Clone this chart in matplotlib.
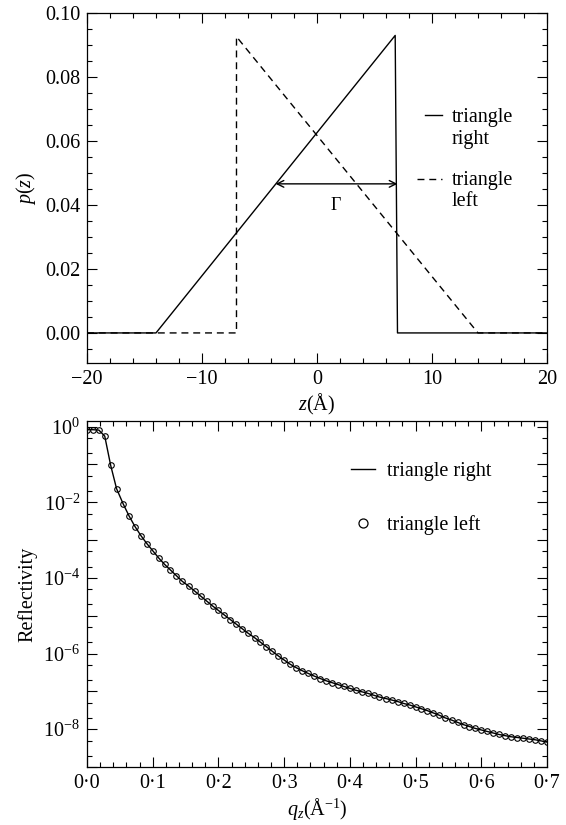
import matplotlib
matplotlib.use("Agg")
import numpy as np
import matplotlib.pyplot as plt
from matplotlib.lines import Line2D
from matplotlib.ticker import MultipleLocator, LogLocator, FuncFormatter, NullFormatter

# fonts: Times-like serif everywhere
plt.rcParams["font.family"] = ["Liberation Serif", "DejaVu Serif"]
plt.rcParams["mathtext.fontset"] = "custom"
plt.rcParams["mathtext.rm"] = "Liberation Serif"
plt.rcParams["mathtext.it"] = "Liberation Serif:italic"
FS = 14.5

# top panel: density profiles p(z)
z_right = [-20, -14, 6.8, 7.0, 20]
p_right = [0, 0, 0.093, 0, 0]
z_left = [-20, -7, -7, 14, 20]
p_left = [0, 0, 0.0926, 0, 0]

# width marker Gamma
gamma_z = [-3.6, 7.0]
gamma_p = 0.0466
gamma_text_pos = (1.6, 0.0397)

# bottom panel: reflectivity (both profiles give the same curve)
q = [0.000, 0.009, 0.018, 0.027, 0.036, 0.045, 0.055, 0.064, 0.073, 0.082,
     0.091, 0.100, 0.109, 0.118, 0.127, 0.136, 0.145, 0.155, 0.164, 0.173,
     0.182, 0.191, 0.200, 0.209, 0.218, 0.227, 0.236, 0.245, 0.255, 0.264,
     0.273, 0.282, 0.291, 0.300, 0.309, 0.318, 0.327, 0.336, 0.345, 0.355,
     0.364, 0.373, 0.382, 0.391, 0.400, 0.409, 0.418, 0.427, 0.436, 0.445,
     0.455, 0.464, 0.473, 0.482, 0.491, 0.500, 0.509, 0.518, 0.527, 0.536,
     0.545, 0.555, 0.564, 0.573, 0.582, 0.591, 0.600, 0.609, 0.618, 0.627,
     0.636, 0.645, 0.655, 0.664, 0.673, 0.682, 0.691, 0.700]
log_refl_right = [
    -0.08, -0.08, -0.09, -0.25, -1.02, -1.64, -2.04, -2.36, -2.64, -2.88,
    -3.09, -3.28, -3.47, -3.64, -3.79, -3.94, -4.09, -4.22, -4.35, -4.48,
    -4.61, -4.74, -4.86, -4.98, -5.10, -5.22, -5.34, -5.46, -5.58, -5.70,
    -5.82, -5.94, -6.06, -6.17, -6.28, -6.37, -6.45, -6.52, -6.59, -6.66,
    -6.72, -6.77, -6.82, -6.87, -6.92, -6.97, -7.01, -7.05, -7.10, -7.15,
    -7.19, -7.23, -7.27, -7.32, -7.36, -7.41, -7.46, -7.51, -7.57, -7.63,
    -7.70, -7.76, -7.82, -7.88, -7.93, -7.98, -8.02, -8.06, -8.10, -8.14,
    -8.17, -8.20, -8.22, -8.24, -8.26, -8.28, -8.31, -8.34]
log_refl_left = list(log_refl_right)

refl_right = 10.0 ** np.array(log_refl_right)
refl_left = 10.0 ** np.array(log_refl_left)


def style_ticks(ax):
    ax.tick_params(which="both", direction="in", top=True, right=True,
                   labelsize=FS, width=0.8, pad=5)
    ax.tick_params(which="major", length=7)
    ax.tick_params(which="minor", length=3.5)
    for sp in ax.spines.values():
        sp.set_linewidth(0.9)


fig = plt.figure(figsize=(5.66, 8.25), dpi=100)

# ---- top panel ----
ax1 = fig.add_axes([0.1537, 0.56, 0.8127, 0.4242])
ax1.plot(z_right, p_right, color="black", lw=1.0)
ax1.plot(z_left, p_left, color="black", lw=1.0, ls=(0, (5, 3.5)))
ax1.annotate("", xy=(gamma_z[1], gamma_p), xytext=(gamma_z[0], gamma_p),
             arrowprops=dict(arrowstyle="<->", lw=1.0, color="black",
                             shrinkA=0, shrinkB=0, mutation_scale=12))
ax1.text(gamma_text_pos[0], gamma_text_pos[1], "Γ", fontsize=13,
         ha="center", va="center")
ax1.set_xlim(-20, 20)
ax1.set_ylim(-0.0094, 0.1)
ax1.xaxis.set_major_locator(MultipleLocator(10))
ax1.xaxis.set_minor_locator(MultipleLocator(2))
ax1.yaxis.set_major_locator(MultipleLocator(0.02))
ax1.yaxis.set_minor_locator(MultipleLocator(0.005))
ax1.yaxis.set_major_formatter(FuncFormatter(lambda v, p: "%.2f" % v))
ax1.set_xlim(-20, 20)
style_ticks(ax1)
ax1.set_xlabel(r"$z$(Å)", fontsize=FS, labelpad=2)
ax1.set_ylabel(r"$p(z)$", fontsize=FS, labelpad=5)

# legend drawn by hand so the handle sits on the first line of each label
tr = ax1.transAxes
ax1.plot([0.735, 0.772], [0.709, 0.709], color="black", lw=1.0,
         transform=tr, clip_on=False)
ax1.text(0.793, 0.670, "triangle\nright", transform=tr, fontsize=FS,
         va="center", ha="left", linespacing=1.17)
ax1.plot([0.717, 0.772], [0.526, 0.526], color="black", lw=1.0,
         ls=(0, (5, 3.5)), transform=tr, clip_on=False)
ax1.text(0.793, 0.491, "triangle\nleft", transform=tr, fontsize=FS,
         va="center", ha="left", linespacing=1.17)

# ---- bottom panel ----
ax2 = fig.add_axes([0.1537, 0.0703, 0.8127, 0.4194])
ax2.plot(q, refl_right, color="black", lw=1.0)
ax2.plot(q, refl_left, ls="none", marker="o", ms=4, mfc="none",
         mec="black", mew=0.8)
ax2.set_yscale("log")
ax2.set_xlim(0, 0.7)
ax2.set_ylim(1e-9, 10 ** 0.15)
ax2.xaxis.set_major_locator(MultipleLocator(0.1))
ax2.xaxis.set_minor_locator(MultipleLocator(0.02))
ax2.xaxis.set_major_formatter(
    FuncFormatter(lambda v, p: ("%.1f" % v).replace(".", "\u00b7")))
ax2.yaxis.set_major_locator(LogLocator(base=10, numticks=20))
ax2.yaxis.set_minor_locator(LogLocator(base=10, subs=(2, 5), numticks=20))
ax2.yaxis.set_minor_formatter(NullFormatter())


def log_label(v, p):
    e = int(round(np.log10(v)))
    return r"$10^{%d}$" % e if e % 2 == 0 else ""


ax2.yaxis.set_major_formatter(FuncFormatter(log_label))
style_ticks(ax2)
ax2.set_xlabel(r"$q_z$(Å$^{-1}$)", fontsize=FS, labelpad=2)
ax2.set_ylabel("Reflectivity", fontsize=FS, labelpad=4)

handles = [Line2D([], [], color="black", lw=1.0),
           Line2D([], [], ls="none", marker="o", ms=6.5, mfc="none",
                  mec="black", mew=0.9)]
ax2.legend(handles, ["triangle right", "triangle left"], loc="upper left",
           bbox_to_anchor=(0.574, 0.881), frameon=False, fontsize=FS,
           handlelength=1.2, handletextpad=0.6, labelspacing=1.7,
           borderpad=0, borderaxespad=0)

fig.savefig("out.png", dpi=100)
